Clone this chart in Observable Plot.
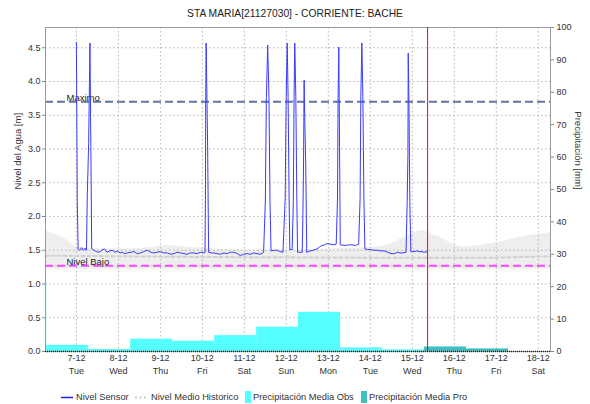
<!DOCTYPE html>
<html><head><meta charset="utf-8">
<script src="https://cdn.jsdelivr.net/npm/d3@7"></script>
<script src="https://cdn.jsdelivr.net/npm/@observablehq/plot@0.6"></script>
<style>
body{margin:0;background:#fff;font-family:"Liberation Sans",Arial,sans-serif;}
#wrap{position:relative;width:590px;height:404px;overflow:hidden;background:#fff;}
#title{height:20px;line-height:28px;text-align:center;font-size:10.3px;color:#222;white-space:nowrap;}
#legend{position:absolute;left:0;top:388px;width:590px;height:16px;font-size:9.3px;color:#333;}
.it{position:absolute;top:0;line-height:18px;white-space:nowrap;}
.sw{position:absolute;}
</style></head><body>
<div id="wrap"><div id="title"></div><div id="chart"></div><div id="legend"></div></div>
<script>
const chartTitle = "STA MARIA[21127030] - CORRIENTE: BACHE";
const yTitleLeft = "Nivel del Agua [m]";
const yTitleRight = "Precipitación [mm]";
const legendLabels = ["Nivel Sensor", "Nivel Medio Historico", "Precipitación Media Obs", "Precipitación Media Pro"];

const xDomain = ["12-06 06:20", "12-18 07:00"];
const tickDates = ["12-07 00:00","12-08 00:00","12-09 00:00","12-10 00:00","12-11 00:00","12-12 00:00","12-13 00:00","12-14 00:00","12-15 00:00","12-16 00:00","12-17 00:00","12-18 00:00"];
const dayLabels = ["7-12","8-12","9-12","10-12","11-12","12-12","13-12","14-12","15-12","16-12","17-12","18-12"];
const weekDays = ["Tue","Wed","Thu","Fri","Sat","Sun","Mon","Tue","Wed","Thu","Fri","Sat"];
const levelTicks = [0,0.5,1,1.5,2,2.5,3,3.5,4,4.5];
const precipTicks = [0,10,20,30,40,50,60,70,80,90,100];
const levelMax = 4.8;
const precipMax = 100;

const limitLabels = ["Maximo", "Nivel Bajo"];
const limitValues = [3.70, 1.27];
const nowTime = "12-15 08:45";

// precipitation (mm), daily 07:00 -> 07:00
const obsStart = ["12-05 07:00","12-06 07:00","12-07 07:00","12-08 07:00","12-09 07:00","12-10 07:00","12-11 07:00","12-12 07:00","12-13 07:00","12-14 07:00"];
const obsMM    = [21.5, 1.9, 0.6, 3.8, 3.2, 4.9, 7.5, 12.1, 1.1, 0.5];
const proStart = ["12-15 07:00","12-16 07:00"];
const proMM    = [1.4, 0.8];

// historic band [time, low, high] and mean
const histBand = [
 ["12-06 06:20",1.22,1.79],["12-06 18:00",1.22,1.66],["12-07 00:00",1.22,1.55],["12-07 12:00",1.22,1.52],
 ["12-08 04:00",1.22,1.52],["12-08 18:00",1.22,1.54],["12-09 04:00",1.22,1.57],["12-09 14:00",1.22,1.55],
 ["12-10 00:00",1.22,1.53],["12-11 00:00",1.22,1.50],["12-12 00:00",1.22,1.50],["12-13 00:00",1.22,1.52],
 ["12-14 00:00",1.22,1.54],["12-14 12:00",1.22,1.60],["12-14 19:00",1.22,1.69],["12-15 06:00",1.22,1.79],
 ["12-15 14:00",1.22,1.71],["12-16 05:00",1.22,1.55],["12-17 00:00",1.22,1.61],["12-17 13:00",1.22,1.69],
 ["12-18 07:00",1.22,1.76]
];
const histMean = [["12-06 06:20",1.42],["12-10 00:00",1.40],["12-14 00:00",1.39],["12-17 00:00",1.39],["12-18 07:00",1.41]];

// sensor level (m)
const sensor = [
 ["12-07 00:00",4.58],["12-07 00:30",2.22],["12-07 01:00",1.52],["12-07 02:00",1.50],["12-07 03:00",1.54],
 ["12-07 04:00",1.50],["12-07 05:00",1.53],["12-07 05:45",1.50],["12-07 06:15",2.34],["12-07 07:00",3.08],
 ["12-07 07:30",4.07],["12-07 07:45",4.57],["12-07 08:15",3.05],["12-07 08:45",1.52],["12-07 10:00",1.50],
 ["12-07 11:30",1.48],["12-07 13:00",1.47],["12-07 14:30",1.50],["12-07 16:00",1.52],["12-07 17:30",1.47],
 ["12-07 19:00",1.49],["12-07 20:30",1.50],["12-07 22:00",1.47],["12-07 23:30",1.49],["12-08 01:00",1.46],
 ["12-08 02:15",1.47],["12-08 03:30",1.45],["12-08 05:00",1.46],["12-08 07:00",1.47],["12-08 09:00",1.48],
 ["12-08 10:45",1.45],["12-08 12:45",1.46],["12-08 14:30",1.48],["12-08 16:30",1.50],["12-08 18:30",1.47],
 ["12-08 20:15",1.46],["12-08 22:00",1.47],["12-09 00:00",1.48],["12-09 02:00",1.46],["12-09 04:00",1.46],
 ["12-09 06:00",1.44],["12-09 07:45",1.45],["12-09 09:30",1.47],["12-09 11:30",1.46],["12-09 13:30",1.45],
 ["12-09 15:15",1.44],["12-09 17:00",1.46],["12-09 19:00",1.46],["12-09 21:00",1.45],["12-09 23:00",1.47],
 ["12-10 00:30",1.46],["12-10 01:30",1.47],["12-10 01:45",2.25],["12-10 01:55",3.70],["12-10 02:10",4.57],
 ["12-10 03:00",3.05],["12-10 03:35",1.47],["12-10 05:00",1.46],["12-10 06:30",1.46],["12-10 08:30",1.45],
 ["12-10 10:20",1.44],["12-10 12:15",1.46],["12-10 14:10",1.45],["12-10 16:00",1.47],["12-10 18:00",1.47],
 ["12-10 20:00",1.45],["12-10 21:45",1.42],["12-10 23:30",1.44],["12-11 01:30",1.45],["12-11 03:30",1.44],
 ["12-11 05:20",1.46],["12-11 07:15",1.45],["12-11 09:10",1.44],["12-11 11:00",1.47],["12-11 12:00",2.23],
 ["12-11 12:35",3.76],["12-11 13:20",4.54],["12-11 14:05",3.76],["12-11 14:40",2.23],["12-11 15:15",1.49],
 ["12-11 17:00",1.50],["12-11 18:40",1.50],["12-11 20:30",1.48],["12-11 22:05",1.47],["12-11 23:20",2.26],
 ["12-11 23:55",3.78],["12-12 00:30",4.57],["12-12 01:00",3.78],["12-12 01:35",2.26],["12-12 02:00",1.51],
 ["12-12 03:20",1.51],["12-12 04:00",2.24],["12-12 04:25",3.78],["12-12 04:50",4.57],["12-12 05:25",3.78],
 ["12-12 06:00",2.24],["12-12 06:25",1.47],["12-12 08:00",1.47],["12-12 09:05",1.47],["12-12 09:30",2.09],
 ["12-12 09:50",2.78],["12-12 10:10",4.02],["12-12 10:35",3.38],["12-12 11:05",2.78],["12-12 11:40",1.47],
 ["12-12 13:40",1.49],["12-12 15:30",1.50],["12-12 17:30",1.52],["12-12 19:00",1.55],["12-12 20:20",1.57],
 ["12-12 21:45",1.58],["12-12 23:10",1.60],["12-13 01:00",1.59],["12-13 03:00",1.58],["12-13 04:30",1.59],
 ["12-13 05:15",2.26],["12-13 05:35",3.76],["12-13 06:00",4.51],["12-13 06:25",3.02],["12-13 06:50",1.58],
 ["12-13 09:35",1.57],["12-13 11:30",1.58],["12-13 13:30",1.58],["12-13 15:30",1.57],["12-13 17:20",1.59],
 ["12-13 18:10",2.26],["12-13 18:35",3.78],["12-13 19:10",4.57],["12-13 19:45",3.78],["12-13 20:20",2.26],
 ["12-13 20:55",1.52],["12-13 22:30",1.51],["12-14 00:00",1.51],["12-14 02:00",1.50],["12-14 04:00",1.50],
 ["12-14 06:00",1.49],["12-14 08:00",1.49],["12-14 10:00",1.47],["12-14 11:50",1.45],["12-14 13:40",1.45],
 ["12-14 15:35",1.47],["12-14 17:00",1.46],["12-14 18:30",1.46],["12-14 20:25",1.47],["12-14 21:05",2.22],
 ["12-14 21:30",2.93],["12-14 21:40",4.42],["12-14 22:05",3.72],["12-14 22:35",2.22],["12-14 23:10",1.48],
 ["12-15 01:05",1.48],["12-15 02:30",1.49],["12-15 04:00",1.48],["12-15 05:30",1.48],["12-15 06:50",1.47],
 ["12-15 08:40",1.48]
];

const P = s => d3.utcParse("%Y-%m-%d %H:%M")("2021-" + s);
const k = levelMax / precipMax;
const sensorData = sensor.map(([t, v]) => ({t: P(t), v}));
const bandData = histBand.map(([t, lo, hi]) => ({t: P(t), lo, hi}));
const meanData = histMean.map(([t, v]) => ({t: P(t), v}));
const obsData = obsStart.map((t, i) => ({t: P(t), t2: d3.utcDay.offset(P(t), 1), mm: obsMM[i]}));
const proData = proStart.map((t, i) => ({t: P(t), t2: d3.utcDay.offset(P(t), 1), mm: proMM[i]}));
const ticks = tickDates.map(P);
const dayMap = new Map(ticks.map((d, i) => [+d, dayLabels[i]]));
const wdMap = new Map(ticks.map((d, i) => [+d, weekDays[i]]));

document.getElementById("title").textContent = chartTitle;

const font = "Liberation Sans, Arial, sans-serif";
const chart = Plot.plot({
  width: 590, height: 366,
  marginLeft: 45, marginRight: 40, marginTop: 7, marginBottom: 35,
  style: {fontFamily: font, fontSize: "9px", color: "#333", background: "#fff", overflow: "visible"},
  x: {type: "utc", domain: [P(xDomain[0]), P(xDomain[1])]},
  y: {domain: [0, levelMax]},
  marks: [
    Plot.areaY(bandData, {x: "t", y1: "lo", y2: "hi", fill: "#eeeeee", curve: "monotone-x"}),
    Plot.gridX(ticks, {stroke: "#b4b4b4", strokeOpacity: 1, strokeDasharray: "1.5,2.5"}),
    Plot.gridY(levelTicks.filter(v => v > 0), {stroke: "#b4b4b4", strokeOpacity: 1, strokeDasharray: "1.5,2.5"}),
    Plot.line(meanData, {x: "t", y: "v", stroke: "#cfcfcf", strokeWidth: 2, strokeDasharray: "3,3"}),
    Plot.rect(obsData, {x1: "t", x2: "t2", y1: () => 0, y2: d => d.mm * k, fill: "#55ffff", clip: true}),
    Plot.rect(proData, {x1: "t", x2: "t2", y1: () => 0, y2: d => d.mm * k, fill: "#40c0c0", clip: true}),
    Plot.ruleY([limitValues[0]], {stroke: "#6274a3", strokeWidth: 2, strokeDasharray: "8,4"}),
    Plot.ruleY([limitValues[1]], {stroke: "#ff44ff", strokeWidth: 2, strokeDasharray: "8,4"}),
    Plot.text(limitValues, {y: d => d, text: (d, i) => limitLabels[i], frameAnchor: "left", dx: 21, dy: -4,
      textAnchor: "start", fill: "#222", fontSize: 9.5}),
    Plot.line(sensorData, {x: "t", y: "v", stroke: "#3a3aff", strokeWidth: 1}),
    Plot.frame({stroke: "#999"}),
    Plot.ruleY([0], {stroke: "#222", strokeDasharray: "1,1", strokeWidth: 1.5}),
    Plot.ruleX([P(nowTime)], {stroke: "#ff0000", strokeOpacity: 1, strokeWidth: 1}),
    Plot.axisY(levelTicks, {anchor: "left", tickSize: 3, tickPadding: 2, tickFormat: d3.format(".1f"),
      label: null, stroke: "#888", fill: "#333"}),
    Plot.axisY(precipTicks.map(v => v * k), {anchor: "right", tickSize: 3, tickPadding: 3,
      tickFormat: d => String(Math.round(d / k)), label: null, stroke: "#888", fill: "#333"}),
    Plot.axisX(ticks, {anchor: "bottom", tickSize: 0, tickPadding: 3, tickFormat: d => dayMap.get(+d), label: null, fill: "#333"}),
    Plot.axisX(ticks, {anchor: "bottom", tickSize: 0, tickPadding: 16, tickFormat: d => wdMap.get(+d), label: null, fill: "#333"}),
    Plot.text([yTitleLeft], {frameAnchor: "left", dx: -28, rotate: -90, fontSize: 9.5, fill: "#333"}),
    Plot.text([yTitleRight], {frameAnchor: "right", dx: 28, rotate: 90, fontSize: 9.5, fill: "#333"})
  ]
});
document.getElementById("chart").appendChild(chart);

// legend
const lg = document.getElementById("legend");
const swatches = [
  {left: 61, svg: '<svg width="12" height="18"><line x1="0" x2="12" y1="9.5" y2="9.5" stroke="#2222ff" stroke-width="1.5"/></svg>', text: 76},
  {left: 135, svg: '<svg width="12" height="18"><line x1="0" x2="12" y1="9.5" y2="9.5" stroke="#cccccc" stroke-width="2" stroke-dasharray="2,2.5"/></svg>', text: 151},
  {left: 245, svg: '<svg width="6" height="18"><rect x="0" y="3" width="6" height="12" fill="#55ffff"/></svg>', text: 253},
  {left: 361, svg: '<svg width="6" height="18"><rect x="0" y="3" width="6" height="12" fill="#40c0c0"/></svg>', text: 369}
];
swatches.forEach((s, i) => {
  const sw = document.createElement("div");
  sw.className = "sw"; sw.style.left = s.left + "px"; sw.style.top = "0px";
  sw.innerHTML = s.svg;
  lg.appendChild(sw);
  const t = document.createElement("div");
  t.className = "it"; t.style.left = s.text + "px";
  t.textContent = legendLabels[i];
  lg.appendChild(t);
});
</script>
</body></html>
